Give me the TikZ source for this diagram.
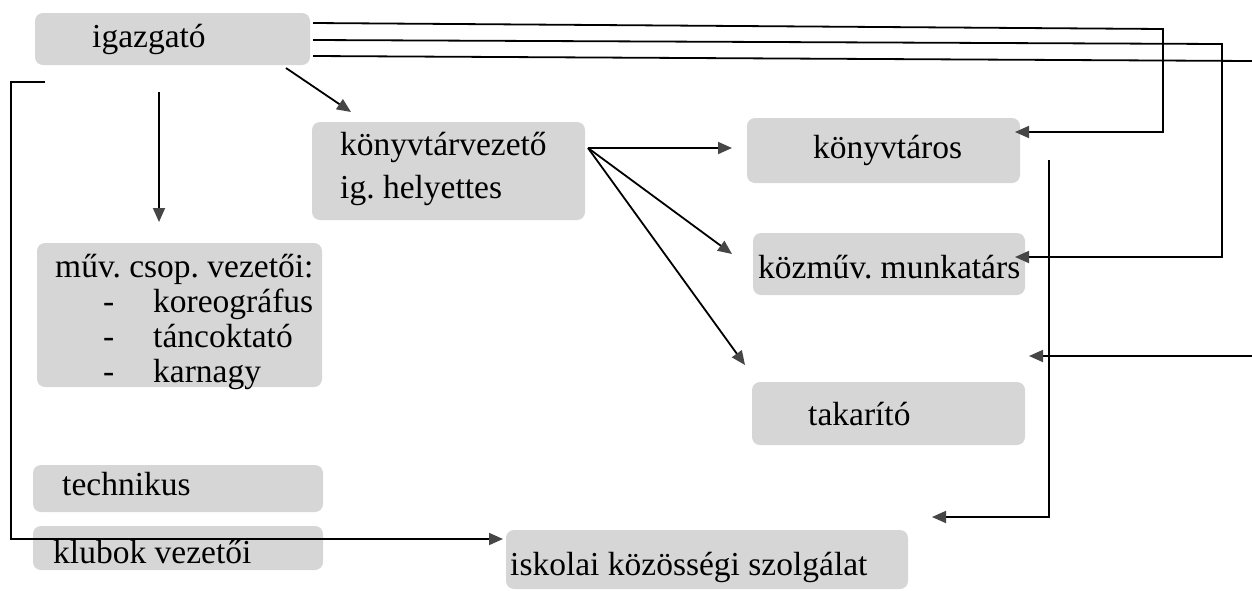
\documentclass[tikz,border=0pt]{standalone}
\usepackage{fontspec}
\setmainfont{Liberation Serif}
\usetikzlibrary{arrows.meta}
\definecolor{boxgray}{RGB}{214,214,214}
\definecolor{tipgray}{RGB}{70,70,70}
\tikzset{
  box/.style={fill=boxgray, draw=none, rounded corners=8pt},
  lbl/.style={anchor=base west, inner sep=0pt, font=\fontsize{33.5}{40}\selectfont},
  conn/.style={line width=1.8pt, black},
  arr/.style={conn, -{Triangle[length=14pt,width=12pt,color=tipgray]}},
}
\begin{document}
\frenchspacing
\begin{tikzpicture}[x=1pt,y=-1pt]
\useasboundingbox (0,0) rectangle (1252,590);
% boxes
\fill[box] (35,13) rectangle (310,65);
\fill[box] (312,122) rectangle (585,220);
\fill[box] (37,243) rectangle (322,387);
\fill[box] (33,465) rectangle (323,512);
\fill[box] (33,526) rectangle (323,570);
\fill[box] (747,118) rectangle (1020,183);
\fill[box] (753,233) rectangle (1025,295);
\fill[box] (752,382) rectangle (1025,445);
\fill[box] (506,530) rectangle (908,589);
% texts
\node[lbl] (tig) at (92,47) {igazgató};
\node[lbl] (th1) at (340,155) {könyvtárvezető};
\node[lbl] (th2) at (340,198) {ig. helyettes};
\node[lbl] (tm0) at (55,277) {műv. csop. vezetői:};
\node[lbl] (td1) at (103,312) {-};
\node[lbl] (tm1) at (153,312) {koreográfus};
\node[lbl] (td2) at (103,347) {-};
\node[lbl] (tm2) at (153,347) {táncoktató};
\node[lbl] (td3) at (103,382) {-};
\node[lbl] (tm3) at (153,382) {karnagy};
\node[lbl] (ttech) at (62,495) {technikus};
\node[lbl] (tklub) at (53,563) {klubok vezetői};
\node[lbl] (tkonyv) at (813,158) {könyvtáros};
\node[lbl] (tkozm) at (758,278) {közműv. munkatárs};
\node[lbl] (ttak) at (808,425) {takarító};
\node[lbl] (tisk) at (510,575) {iskolai közösségi szolgálat};
% connector points
\coordinate (igDownS) at (159,92);
\coordinate (igDownE) at (159,222);
\coordinate (igHS) at (286,68);
\coordinate (igHE) at (351,112);
\coordinate (hS) at (588,148);
\coordinate (konyvE) at (732,148);
\coordinate (kozmE) at (732,254);
\coordinate (takE) at (745,365);
\coordinate (l1S) at (313,23);
\coordinate (l1C) at (1163,29);
\coordinate (l1D) at (1163,132);
\coordinate (l1E) at (1015,132);
\coordinate (l2S) at (313,40);
\coordinate (l2C) at (1222,44);
\coordinate (l2D) at (1222,257);
\coordinate (l2E) at (1015,257);
\coordinate (l3S) at (313,56);
\coordinate (l3E) at (1252,61);
\coordinate (rS) at (1252,356);
\coordinate (rE) at (1029,356);
\coordinate (kS) at (1049,160);
\coordinate (kC) at (1049,517);
\coordinate (kE) at (932,517);
\coordinate (lpS) at (45,82);
\coordinate (lpA) at (11,82);
\coordinate (lpB) at (11,539);
\coordinate (lpE) at (503,539);
% connectors
\draw[arr] (igDownS) -- (igDownE);
\draw[arr] (igHS) -- (igHE);
\draw[arr] (hS) -- (konyvE);
\draw[arr] (hS) -- (kozmE);
\draw[arr] (hS) -- (takE);
\draw[arr] (l1S) -- (l1C) -- (l1D) -- (l1E);
\draw[arr] (l2S) -- (l2C) -- (l2D) -- (l2E);
\draw[conn] (l3S) -- (l3E);
\draw[arr] (rS) -- (rE);
\draw[arr] (kS) -- (kC) -- (kE);
\draw[arr] (lpS) -- (lpA) -- (lpB) -- (lpE);
\end{tikzpicture}
\end{document}
